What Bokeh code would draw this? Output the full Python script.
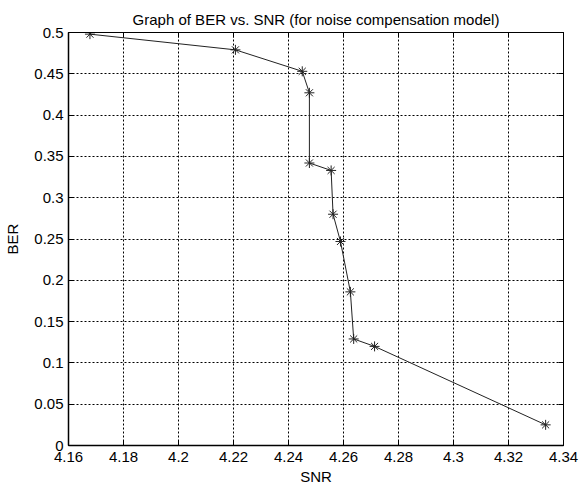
from bokeh.plotting import figure
from bokeh.models import LinearAxis, FixedTicker, Range1d
from bokeh.embed import file_html
from bokeh.resources import INLINE

snr = [4.1678, 4.2207, 4.2450, 4.2476, 4.2476, 4.2555, 4.2562, 4.2589, 4.2625, 4.2637, 4.2713, 4.3335]
ber = [0.498, 0.479, 0.453, 0.427, 0.342, 0.333, 0.280, 0.247, 0.186, 0.129, 0.120, 0.025]

x_ticks = [4.16, 4.18, 4.20, 4.22, 4.24, 4.26, 4.28, 4.30, 4.32, 4.34]
x_tick_labels = ["4.16", "4.18", "4.2", "4.22", "4.24", "4.26", "4.28", "4.3", "4.32", "4.34"]
y_ticks = [0, 0.05, 0.10, 0.15, 0.20, 0.25, 0.30, 0.35, 0.40, 0.45, 0.50]
y_tick_labels = ["0", "0.05", "0.1", "0.15", "0.2", "0.25", "0.3", "0.35", "0.4", "0.45", "0.5"]

FONT = "Liberation Sans"
FS = "15px"

p = figure(width=581, height=488, output_backend="svg", toolbar_location=None,
           x_range=Range1d(4.16, 4.34), y_range=Range1d(0, 0.5),
           min_border_left=68, min_border_right=18, min_border_top=32, min_border_bottom=43,
           title="Graph of BER vs. SNR (for noise compensation model)")
p.title.align = "center"
p.title.text_font = FONT
p.title.text_font_size = FS
p.title.text_font_style = "normal"
p.title.text_color = "black"
p.title.offset = 0
p.title.standoff = 9

p.outline_line_color = "black"
p.outline_line_width = 1
p.background_fill_color = "white"
p.border_fill_color = "white"

for ax, ticks, labels in ((p.xaxis[0], x_ticks, x_tick_labels), (p.yaxis[0], y_ticks, y_tick_labels)):
    ax.ticker = FixedTicker(ticks=ticks)
    ax.major_label_overrides = {t: l for t, l in zip(ticks, labels)}
    ax.major_tick_in = 5
    ax.major_tick_out = 0
    ax.minor_tick_in = 0
    ax.minor_tick_out = 0
    ax.axis_line_color = "black"
    ax.axis_line_width = 1.5
    ax.major_tick_line_color = "black"
    ax.major_label_text_font = FONT
    ax.major_label_text_font_size = FS
    ax.major_label_text_color = "black"
    ax.axis_label_text_font = FONT
    ax.axis_label_text_font_size = FS
    ax.axis_label_text_font_style = "normal"
    ax.axis_label_text_color = "black"

p.xaxis.axis_label = "SNR"
p.yaxis.axis_label = "BER"
p.xaxis.major_label_standoff = 6
p.yaxis.major_label_standoff = 5
p.xaxis.axis_label_standoff = 3
p.yaxis.axis_label_standoff = 10

for loc, ticks in (("above", x_ticks), ("right", y_ticks)):
    a = LinearAxis(ticker=FixedTicker(ticks=ticks))
    a.major_label_overrides = {t: "" for t in ticks}
    a.major_label_standoff = 0
    a.major_tick_in = 5
    a.major_tick_out = 0
    a.minor_tick_in = 0
    a.minor_tick_out = 0
    a.axis_line_color = "black"
    a.major_tick_line_color = "black"
    a.major_label_text_font_size = "1px"
    p.add_layout(a, loc)

p.xgrid.ticker = FixedTicker(ticks=x_ticks)
p.ygrid.ticker = FixedTicker(ticks=y_ticks)
for g in (p.xgrid[0], p.ygrid[0]):
    g.grid_line_color = "black"
    g.grid_line_dash = "2 2"
    g.grid_line_width = 1
    g.grid_line_alpha = 1.0

p.line(snr, ber, line_color="#222222", line_width=1)
p.scatter(snr, ber, marker="asterisk", size=10, line_color="#222222", line_width=1)

open("out.html", "w").write(file_html(p, INLINE))
